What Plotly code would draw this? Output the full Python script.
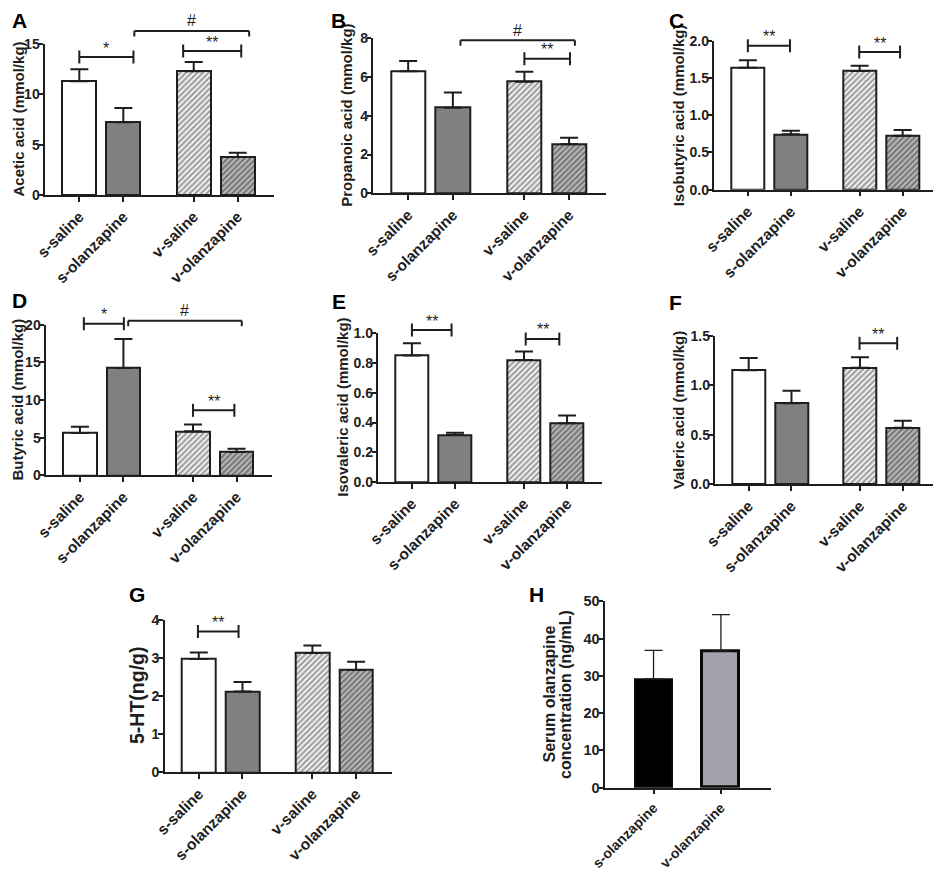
import plotly.graph_objects as go

W, H = 941, 872
OFF = 8          # the page body adds an 8 px margin
FW, FH = W - OFF, H - OFF
FONT = "Liberation Sans"
INK = "#1e1e1e"

# data (mean and upper SEM)
categories = ["s-saline", "s-olanzapine", "v-saline", "v-olanzapine"]
acetic = [11.3, 7.22, 12.3, 3.77]
acetic_sem = [1.2, 1.42, 0.9, 0.43]
propanoic = [6.30, 4.42, 5.76, 2.53]
propanoic_sem = [0.53, 0.78, 0.52, 0.34]
isobutyric = [1.638, 0.743, 1.593, 0.725]
isobutyric_sem = [0.098, 0.049, 0.071, 0.075]
butyric = [5.62, 14.25, 5.84, 3.10]
butyric_sem = [0.84, 3.85, 0.89, 0.44]
isovaleric = [0.850, 0.316, 0.821, 0.395]
isovaleric_sem = [0.083, 0.016, 0.056, 0.053]
valeric = [1.153, 0.819, 1.180, 0.573]
valeric_sem = [0.125, 0.128, 0.104, 0.071]
serotonin = [2.97, 2.12, 3.125, 2.68]
serotonin_sem = [0.17, 0.25, 0.20, 0.22]

serum_categories = ["s-olanzapine", "v-olanzapine"]
serum = [29.16, 36.67]
serum_sem = [7.69, 9.73]

# layout: x slots of the four groups, bar styles
xpos = [0, 1, 2.6, 3.6]
serum_xpos = [0, 1]
fills = ["white", "#808080", "white", "#6a6a6a"]
hatch = ["", "", "/", "/"]
hatch_fg = [INK, INK, "#262626", "#1a1a1a"]

# left axis px, px per x unit, zero px, px of top tick, title centre px, letter centre
panels = [
    dict(letter="A", y=acetic, e=acetic_sem, title="Acetic acid (mmol/kg)",
         ticks=[0, 5, 10, 15], fmt="{:g}", tx=18,
         left=45, unit=44, zero=195, peak=44, lab=(19, None),
         marks=[(0, 1.23, 13.7, "*", "cap"), (2.36, 3.68, 14.3, "**", "cap"),
                (1.25, 3.86, 16.3, "#", "drop")]),
    dict(letter="B", y=propanoic, e=propanoic_sem, title="Propanoic acid (mmol/kg)",
         ticks=[0, 2, 4, 6, 8], fmt="{:g}", tx=347,
         left=373.3, unit=44.7, zero=193.3, peak=38.3, lab=(338.5, None),
         marks=[(1.17, 3.73, 7.9, "#", "drop"), (2.6, 3.62, 6.95, "**", "cap")]),
    dict(letter="C", y=isobutyric, e=isobutyric_sem, title="Isobutyric acid (mmol/kg)",
         ticks=[0, 0.5, 1.0, 1.5, 2.0], fmt="{:.1f}", tx=678,
         left=714.3, unit=43, zero=189.7, peak=40.7, lab=(676, None),
         marks=[(0, 0.98, 1.933, "**", "cap"), (2.59, 3.54, 1.848, "**", "cap")]),
    dict(letter="D", y=butyric, e=butyric_sem, title="Butyric acid (mmol/kg)",
         ticks=[0, 5, 10, 15, 20], fmt="{:g}", tx=17.5,
         left=46, unit=43.5, zero=475.3, peak=324.7, lab=(19, 300),
         marks=[(0.09, 1.01, 20.13, "*", "cap"), (1.11, 3.72, 20.53, "#", "drop"),
                (2.6, 3.55, 8.63, "**", "cap")]),
    dict(letter="E", y=isovaleric, e=isovaleric_sem, title="Isovaleric acid (mmol/kg)",
         ticks=[0, 0.2, 0.4, 0.6, 0.8, 1.0], fmt="{:.1f}", tx=343,
         left=378.3, unit=43.1, zero=482, peak=333.3, lab=(338.5, 301.5),
         marks=[(0, 0.92, 1.022, "**", "cap"), (2.64, 3.42, 0.962, "**", "cap")]),
    dict(letter="F", y=valeric, e=valeric_sem, title="Valeric acid (mmol/kg)",
         ticks=[0, 0.5, 1.0, 1.5], fmt="{:.1f}", tx=678,
         left=715.3, unit=42.8, zero=484.3, peak=336, lab=(675.5, 303),
         marks=[(2.59, 3.47, 1.426, "**", "cap")]),
    dict(letter="G", y=serotonin, e=serotonin_sem, title="5-HT(ng/g)", tsize=19.5,
         ticks=[0, 1, 2, 3, 4], fmt="{:g}", tx=137,
         left=164.7, unit=43.7, zero=772.3, peak=619.7, lab=(136.5, 594.5),
         marks=[(-0.02, 0.91, 3.69, "**", "cap")]),
]


def fx(p):
    return (p - OFF) / FW


def fy(p):
    return 1 - (p - OFF) / FH


def axis_names(k):
    s = "" if k == 1 else str(k)
    return "x" + s, "y" + s, "xaxis" + s, "yaxis" + s


def bold(t):
    return "<b>" + t + "</b>"


def base_axis(size, letter):
    ax = dict(ticks="outside", ticklen=4.5, tickwidth=2, tickcolor=INK, showgrid=False,
              zeroline=False, automargin=False, fixedrange=True,
              showline=True, linecolor=INK, linewidth=2,
              tickfont=dict(family=FONT, size=size, color=INK))
    if letter == "y":
        ax["ticklabelstandoff"] = -4
    return ax


def y_title(text, x_px, ya, size):
    return dict(xref="paper", yref=ya + " domain", x=fx(x_px), y=0.5, text=bold(text),
                textangle=-90, showarrow=False, xanchor="center", yanchor="middle",
                font=dict(family=FONT, size=size, color=INK))


def panel_letter(text, x_px, y_px):
    note = dict(xref="paper", yref="paper", x=fx(x_px), text=bold(text), showarrow=False,
                xanchor="center", font=dict(family=FONT, size=21, color="#000"))
    if y_px is None:  # top row sits against the upper edge
        note.update(y=1, yanchor="top", borderpad=0)
    else:
        note.update(y=fy(y_px), yanchor="middle")
    return note


fig = go.Figure()
shapes, notes = [], []

for k, p in enumerate(panels, start=1):
    xa, ya, xname, yname = axis_names(k)
    yd = ya + " domain"
    xr = [-0.78, 4.42]
    ymax = p["ticks"][-1]
    fig.add_trace(go.Bar(
        x=xpos, y=p["y"], xaxis=xa, yaxis=ya, width=0.77,
        marker=dict(color=fills, line=dict(color=INK, width=2),
                    pattern=dict(shape=hatch, fgcolor=hatch_fg, fillmode="overlay",
                                 size=4, solidity=0.62)),
        error_y=dict(type="data", symmetric=False, array=p["e"], arrayminus=[0] * 4,
                     thickness=2, width=9, color=INK),
        showlegend=False, hoverinfo="skip", cliponaxis=False))
    x1_px = p["left"] + p["unit"] * (xr[1] - xr[0])
    xaxis = base_axis(15.5, "x")
    xaxis.update(domain=[fx(p["left"]), fx(x1_px)], range=xr, anchor=ya,
                 tickvals=xpos, ticktext=[bold(c) for c in categories], tickangle=-45)
    yaxis = base_axis(14, "y")
    yaxis.update(domain=[fy(p["zero"]), fy(p["peak"])], range=[0, ymax],
                 anchor=xa, tickvals=p["ticks"],
                 ticktext=[bold(p["fmt"].format(t)) for t in p["ticks"]])
    fig.update_layout(**{xname: xaxis, yname: yaxis})
    notes.append(y_title(p["title"], p["tx"], ya, p.get("tsize", 15)))
    # significance brackets: levels in data units, placed on the y domain scale
    for x0, x1, lvl, label, style in p["marks"]:
        d = lvl / ymax
        shapes.append(dict(type="line", xref=xa, yref=yd, x0=x0, x1=x1, y0=d, y1=d,
                           line=dict(color=INK, width=2)))
        lo, hi = (-6.5, 6.5) if style == "cap" else (-5.5, 0)
        for xe in (x0, x1):
            shapes.append(dict(type="line", xref=xa, yref=yd, ysizemode="pixel",
                               yanchor=d, x0=xe, x1=xe, y0=lo, y1=hi,
                               line=dict(color=INK, width=2)))
        notes.append(dict(xref=xa, yref=yd, x=(x0 + x1) / 2, y=d, text=label,
                          showarrow=False, yanchor="middle",
                          yshift=10 if label == "#" else 9,
                          font=dict(family=FONT, size=16, color=INK)))
    notes.append(panel_letter(p["letter"], *p["lab"]))

# panel H: serum olanzapine
k = len(panels) + 1
xa, ya, xname, yname = axis_names(k)
h_left, h_unit, h_zero, h_peak = 605, 67.4, 787.7, 601.3
h_xr = [-0.72, 1.74]
h_ticks = [0, 10, 20, 30, 40, 50]
fig.add_trace(go.Bar(
    x=serum_xpos, y=serum, xaxis=xa, yaxis=ya, width=0.55,
    marker=dict(color=["#000000", "#a2a2aa"], line=dict(color="#0a0a0a", width=[2, 3])),
    error_y=dict(type="data", symmetric=False, array=serum_sem, arrayminus=[0, 0],
                 thickness=1.3, width=9, color=INK),
    showlegend=False, hoverinfo="skip"))
xaxis = base_axis(14, "x")
xaxis.update(domain=[fx(h_left), fx(h_left + h_unit * (h_xr[1] - h_xr[0]))],
             range=h_xr, anchor=ya, tickvals=serum_xpos,
             ticktext=[bold(c) for c in serum_categories], tickangle=-45)
yaxis = base_axis(14.5, "y")
yaxis.update(domain=[fy(h_zero), fy(h_peak)], range=[0, 50], anchor=xa,
             tickvals=h_ticks, ticktext=[bold(str(t)) for t in h_ticks])
fig.update_layout(**{xname: xaxis, yname: yaxis})
notes.append(y_title("Serum olanzapine", 549, ya, 16))
notes.append(y_title("concentration (ng/mL)", 565.5, ya, 16))
notes.append(panel_letter("H", 536, 594.5))

fig.update_layout(template="none", width=FW, height=FH, margin=dict(l=0, r=0, t=0, b=0),
                  paper_bgcolor="white", plot_bgcolor="white",
                  shapes=shapes, annotations=notes, bargap=0)
fig.write_html("out.html")
